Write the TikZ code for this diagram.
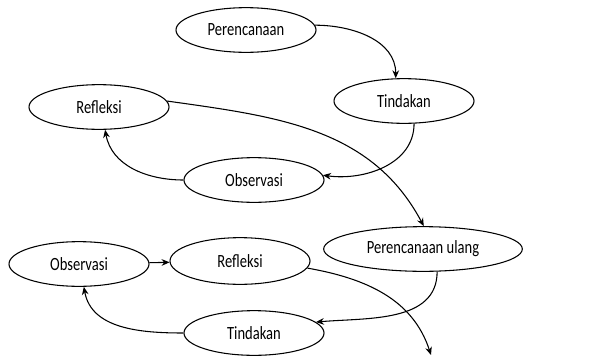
\documentclass[tikz,border=0pt]{standalone}
\usepackage{fontspec}
\setmainfont[FakeStretch=0.78]{Carlito}
\usetikzlibrary{shapes.geometric,arrows.meta}

\begin{document}
\begin{tikzpicture}[x=0.75pt, y=-0.75pt,
    stage/.style={draw, ellipse, line width=0.8pt, minimum width=105pt, minimum height=33.5pt, inner sep=0pt, font=\fontsize{14}{16}\selectfont},
    flow/.style={line width=0.8pt, -{Stealth[length=6pt,width=5pt]}}]
    \useasboundingbox (0,0) rectangle (608,358);

    % First cycle
    \node[stage] (plan-1) at (246,30) {Perencanaan};
    \node[stage] (act-1) at (404,101) {Tindakan};
    \node[stage] (obs-1) at (254,180) {Observasi};
    \node[stage] (refl-1) at (99,107) {Refleksi};

    % Second cycle
    \node[stage, minimum width=149pt] (plan-2) at (423,249) {Perencanaan ulang};
    \node[stage] (act-2) at (254,333) {Tindakan};
    \node[stage] (obs-2) at (79,264) {Observasi};
    \node[stage, minimum height=35pt] (refl-2) at (240,261) {Refleksi};
    \coordinate (next) at (431,355);

    \draw[flow] (plan-1.4) to[out=0, in=90] (act-1.110);
    \draw[flow] (act-1.294) to[out=-90, in=-8] (obs-1.4);
    \draw[flow] (obs-1.west) to[out=180, in=-80] (refl-1.285);
    \draw[flow] (refl-1.5) to[out=-8, in=118] (plan-2.88);
    \draw[flow] (plan-2.302) to[out=-90, in=5] (act-2.10);
    \draw[flow] (act-2.west) to[out=180, in=-80] (obs-2.282);
    \draw[flow] (obs-2) -- (refl-2);
    \draw[flow] (refl-2.-6) to[out=-10, in=108] (next);

\end{tikzpicture}
\end{document}
